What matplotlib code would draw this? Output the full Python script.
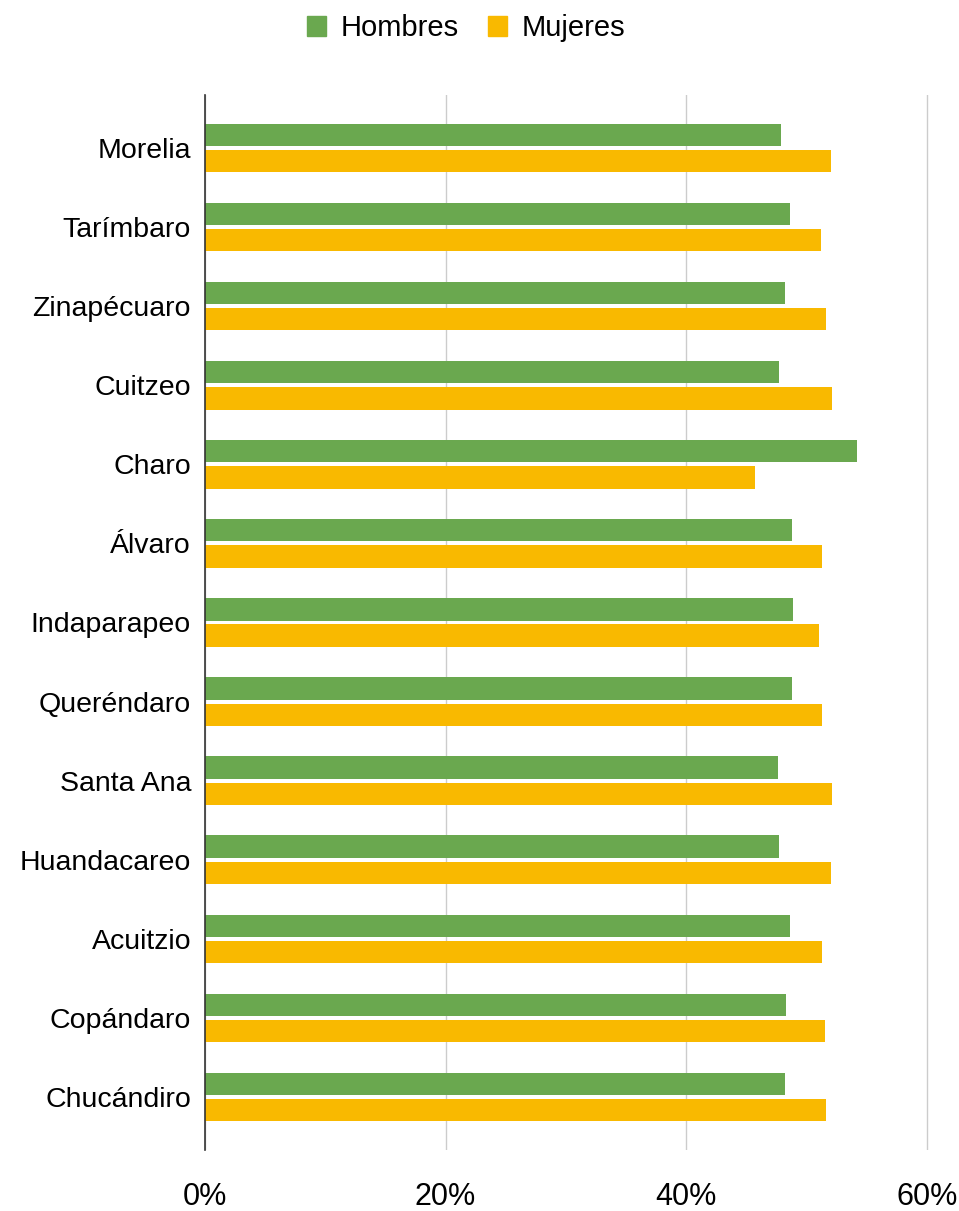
import numpy as np
import matplotlib.pyplot as plt
from matplotlib.patches import Patch

plt.rcParams['font.family'] = ['Liberation Sans', 'DejaVu Sans']

municipios = ['Morelia', 'Tarímbaro', 'Zinapécuaro', 'Cuitzeo', 'Charo', 'Álvaro',
              'Indaparapeo', 'Queréndaro', 'Santa Ana', 'Huandacareo', 'Acuitzio',
              'Copándaro', 'Chucándiro']
hombres = [47.9, 48.6, 48.2, 47.7, 54.2, 48.8, 48.9, 48.8, 47.6, 47.7, 48.6, 48.3, 48.2]
mujeres = [52.0, 51.2, 51.6, 52.1, 45.7, 51.3, 51.0, 51.3, 52.1, 52.0, 51.3, 51.5, 51.6]
ticks = [0, 20, 40, 60]
tick_labels = ['0%', '20%', '40%', '60%']

verde = '#6aa84f'
amarillo = '#f9b900'

fig = plt.figure(figsize=(9.59, 12.11), dpi=100)
ax = fig.add_axes([205 / 959, 1 - 1150 / 1211, (959 - 205) / 959, (1150 - 95) / 1211])

y = np.arange(len(municipios))
h = 0.28
ax.barh(y - 0.165, hombres, height=h, color=verde, zorder=3)
ax.barh(y + 0.165, mujeres, height=h, color=amarillo, zorder=3)

ax.set_ylim(len(municipios) - 0.5 + 0.175, -0.5 - 0.175)
ax.set_xlim(0, (959 - 205) / 12.03)
ax.set_yticks(y)
ax.set_yticklabels(municipios, fontsize=20.5)
ax.set_xticks(ticks)
ax.set_xticklabels(tick_labels, fontsize=22)
ax.tick_params(axis='both', length=0)
ax.tick_params(axis='y', pad=10)
ax.tick_params(axis='x', pad=23)

ax.grid(axis='x', color='#cccccc', linewidth=1, zorder=0)
for s in ['top', 'right', 'bottom']:
    ax.spines[s].set_visible(False)
ax.spines['left'].set_color('#333333')
ax.spines['left'].set_linewidth(1.2)
ax.spines['left'].set_zorder(4)

handles = [Patch(color=verde, label='Hombres'), Patch(color=amarillo, label='Mujeres')]
fig.legend(handles=handles, loc='center', bbox_to_anchor=(466 / 959, 1 - 28 / 1211),
           ncol=2, frameon=False, fontsize=21, handlelength=0.65, handleheight=0.7,
           handletextpad=0.5, columnspacing=1.0)

fig.savefig('out.png', dpi=100)
